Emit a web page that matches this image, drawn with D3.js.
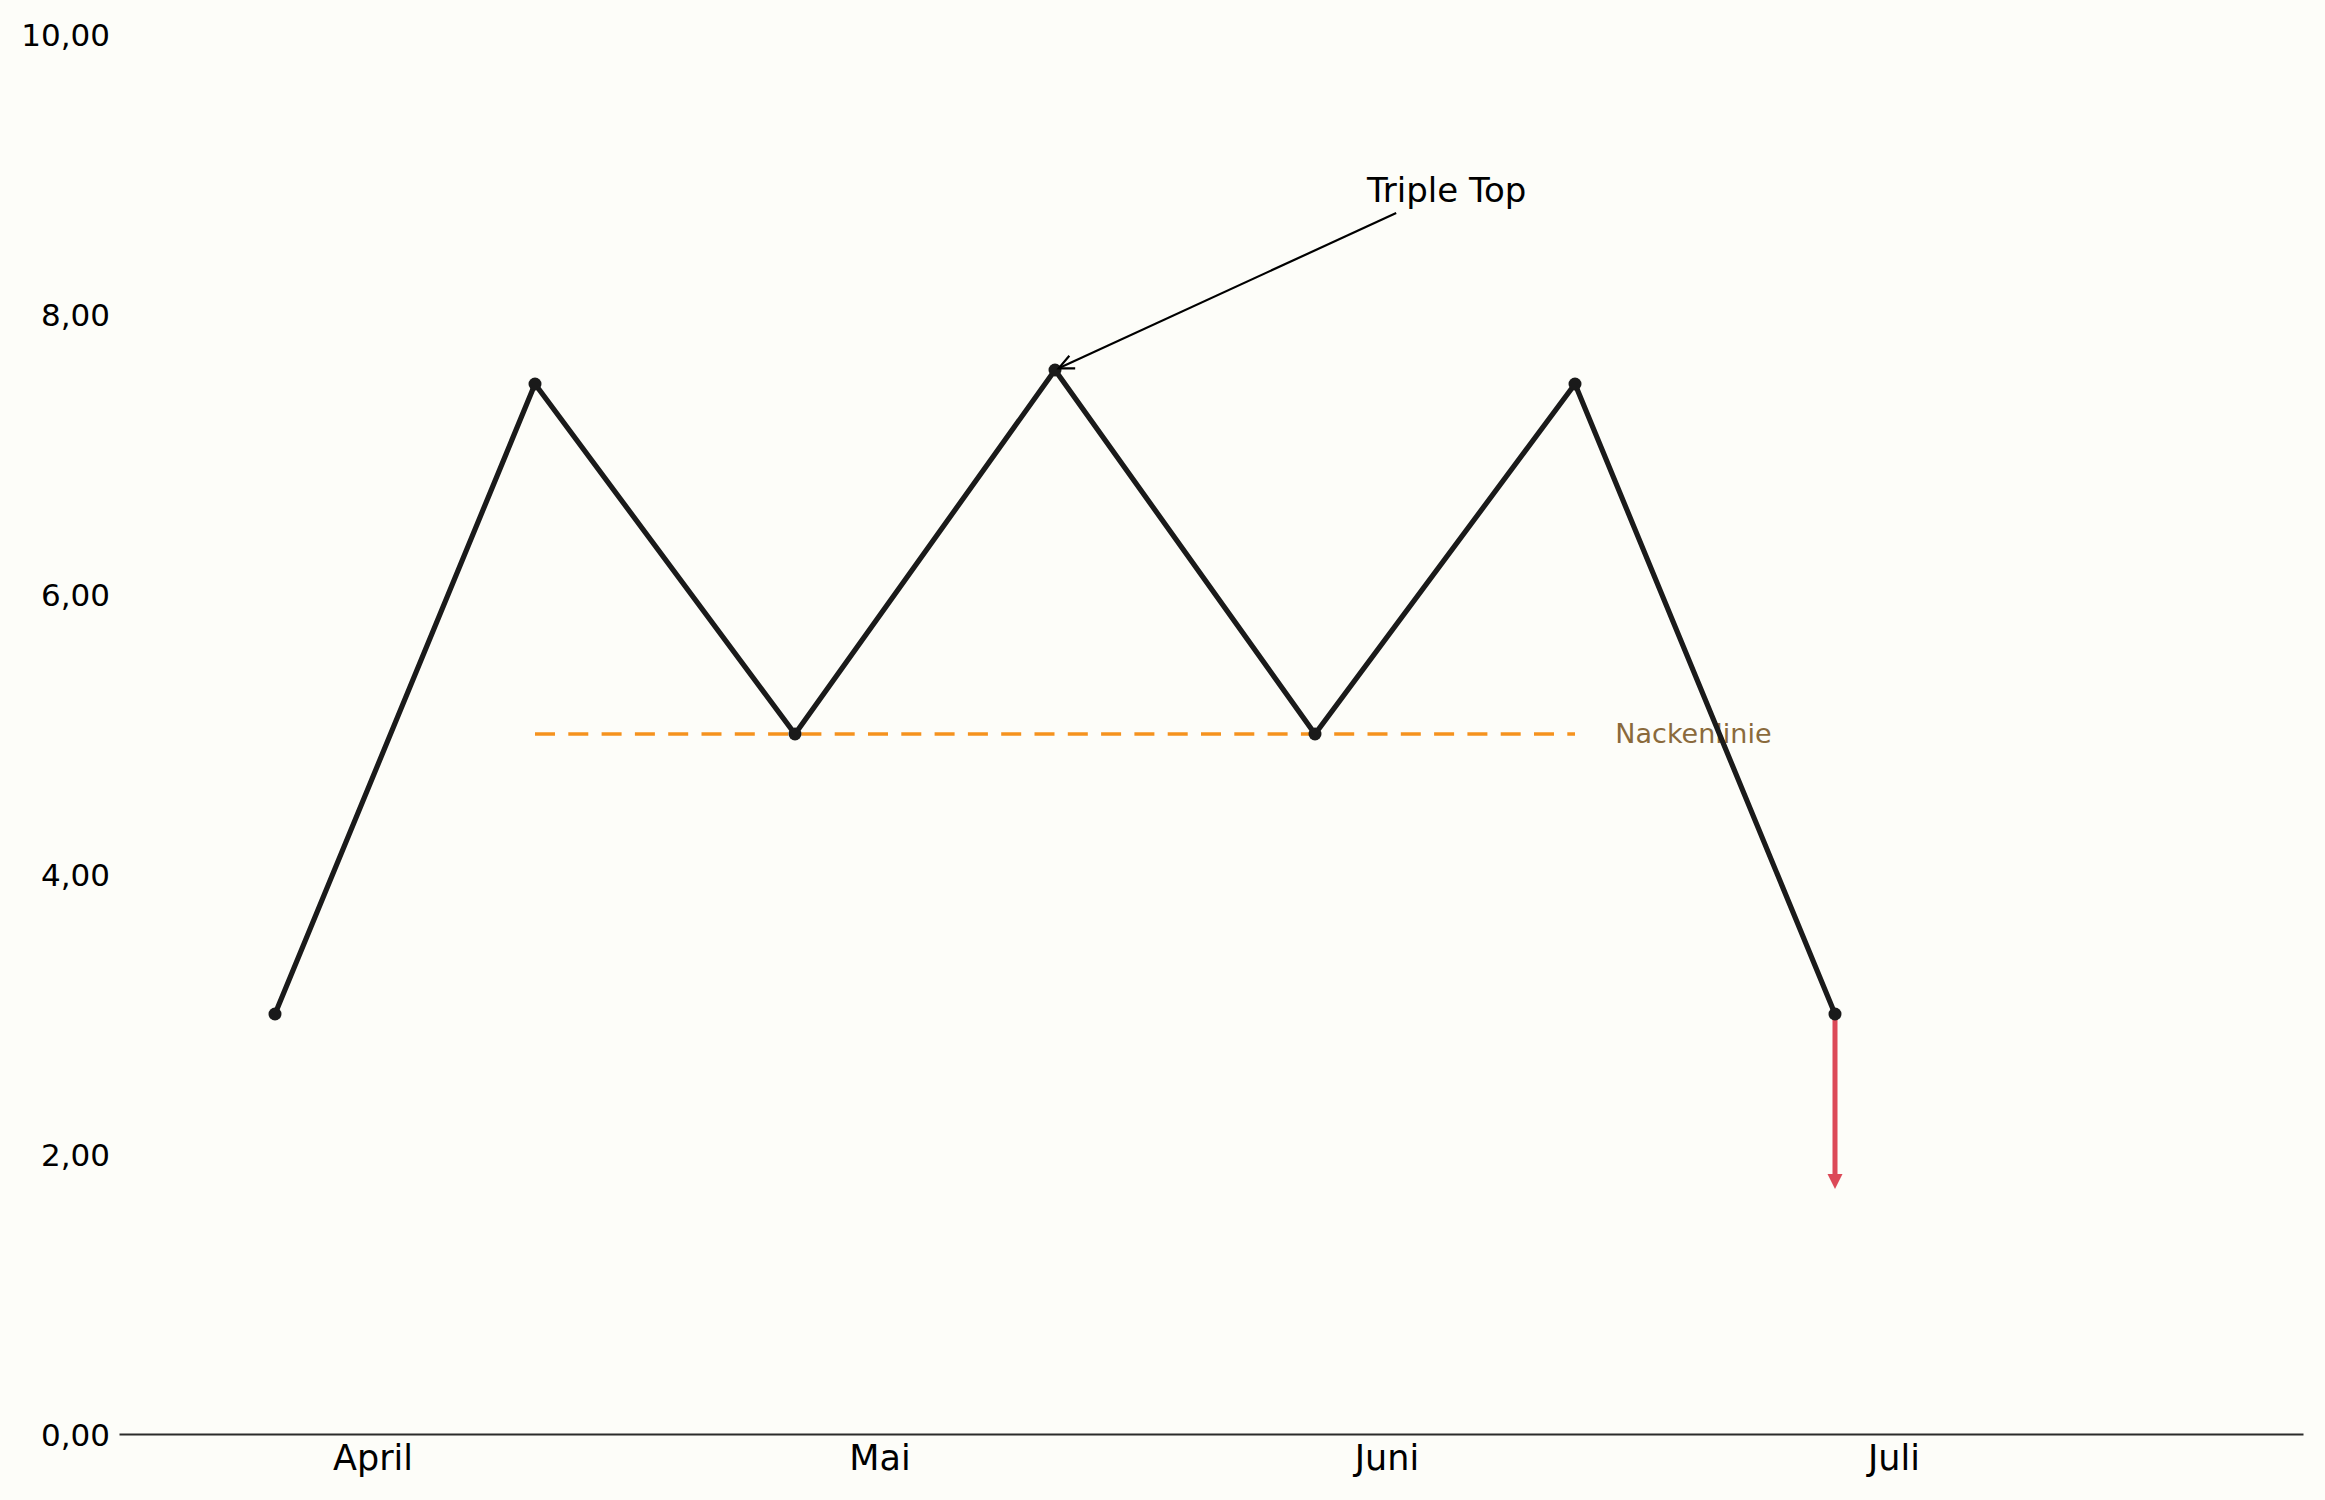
<!DOCTYPE html>
<html lang="de">
<head>
  <meta charset="UTF-8" />
  <title>Triple Top</title>
  <script src="https://d3js.org/d3.v7.min.js"></script>
  <style>
    body {
      margin: 0;
      background: #fdfdf9;
      font-family: "DejaVu Sans", sans-serif;
    }
    svg { display: block; }
  </style>
</head>
<body>
  <svg id="chart"></svg>

  <script>
    // --- data ---
    const pointSlots  = [0, 1, 2, 3, 4, 5, 6];
    const priceValues = [3, 7.5, 5, 7.6, 5, 7.5, 3];

    const monthLabels = ["April", "Mai", "Juni", "Juli"];
    const monthSlots  = [0.375, 2.325, 4.275, 6.225];

    const yTickValues = [0, 2, 4, 6, 8, 10];

    const necklineSlots = [1, 5];
    const necklineValue = 5;
    const necklineLabel = "Nackenlinie";

    const annotationText  = "Triple Top";
    const annotationPeak  = 3;          // index of the pointed-at peak
    const annotationAt    = [4.2, 8.8]; // text position (slot, value)

    const breakSlot  = 6;
    const breakFrom  = 3;
    const breakTo    = 1.75;

    // --- layout ---
    const W = 2325, H = 1500;
    const margin = { top: 34, right: 22, bottom: 66, left: 119 };

    const svg = d3.select("#chart").attr("width", W).attr("height", H);

    svg.append("rect").attr("width", W).attr("height", H).attr("fill", "#fdfdf9");

    const x = d3.scaleLinear().domain([-0.6, 7.8]).range([margin.left, W - margin.right]);
    const y = d3.scaleLinear().domain([0, 10]).range([H - margin.bottom, margin.top]);

    const de = d3.formatLocale({ decimal: ",", thousands: ".", grouping: [3], currency: ["", " €"] });
    const fmt = de.format(".2f");

    // y axis (labels only)
    const yAxis = svg.append("g")
      .attr("transform", `translate(${margin.left},0)`)
      .call(d3.axisLeft(y).tickValues(yTickValues).tickFormat(fmt).tickSize(0).tickPadding(9));
    yAxis.select(".domain").remove();
    yAxis.selectAll("text")
      .attr("font-family", "DejaVu Sans")
      .attr("font-size", 31)
      .attr("dy", "0.36em")
      .attr("fill", "#000");

    // neckline label (drawn under the price line)
    svg.append("text")
      .attr("x", x(necklineSlots[1] + 0.155))
      .attr("y", y(necklineValue))
      .attr("dy", "0.35em")
      .attr("font-size", 27)
      .attr("fill", "#8a6a3c")
      .text(necklineLabel);

    // neckline
    svg.append("line")
      .attr("x1", x(necklineSlots[0]))
      .attr("x2", x(necklineSlots[1]))
      .attr("y1", y(necklineValue))
      .attr("y2", y(necklineValue))
      .attr("stroke", "#f5921e")
      .attr("stroke-width", 3.7)
      .attr("stroke-dasharray", "20,13.3");

    // breakdown arrow
    const headLen = 15, headHalf = 7.5;
    svg.append("line")
      .attr("x1", x(breakSlot))
      .attr("x2", x(breakSlot))
      .attr("y1", y(breakFrom))
      .attr("y2", y(breakTo) - headLen + 1)
      .attr("stroke", "#dc4958")
      .attr("stroke-width", 5);
    svg.append("path")
      .attr("d", `M${x(breakSlot) - headHalf},${y(breakTo) - headLen} L${x(breakSlot) + headHalf},${y(breakTo) - headLen} L${x(breakSlot)},${y(breakTo)} Z`)
      .attr("fill", "#dc4958");

    // x axis
    const xAxis = svg.append("g")
      .attr("transform", `translate(0,${y(0)})`)
      .call(d3.axisBottom(x).tickValues(monthSlots).tickFormat((d, i) => monthLabels[i])
        .tickSize(0).tickSizeOuter(0).tickPadding(11));
    xAxis.select(".domain").attr("stroke", "#2b2b2b").attr("stroke-width", 2);
    xAxis.selectAll("text")
      .attr("font-family", "DejaVu Sans")
      .attr("font-size", 35)
      .attr("fill", "#000");

    // price line
    const pts = pointSlots.map((s, i) => ({ s, v: priceValues[i] }));
    const line = d3.line().x(d => x(d.s)).y(d => y(d.v));

    svg.append("path")
      .datum(pts)
      .attr("d", line)
      .attr("fill", "none")
      .attr("stroke", "#1a1a1a")
      .attr("stroke-width", 5.2)
      .attr("stroke-linejoin", "miter");

    svg.selectAll(".pt")
      .data(pts)
      .enter()
      .append("circle")
        .attr("class", "pt")
        .attr("cx", d => x(d.s))
        .attr("cy", d => y(d.v))
        .attr("r", 6.5)
        .attr("fill", "#1a1a1a");

    // annotation
    const label = svg.append("text")
      .attr("x", x(annotationAt[0]))
      .attr("y", y(annotationAt[1]))
      .attr("font-size", 34)
      .attr("fill", "#000")
      .text(annotationText);

    const bb = label.node().getBBox();
    const cx = bb.x + bb.width / 2, cy = bb.y + bb.height / 2;
    const tx = x(pointSlots[annotationPeak]), ty = y(priceValues[annotationPeak]);
    const dx = tx - cx, dy = ty - cy;
    const pad = 3;
    const tEdge = Math.min(
      (bb.width / 2 + pad) / Math.abs(dx),
      (bb.height / 2 + pad) / Math.abs(dy)
    );
    const sx = cx + dx * tEdge, sy = cy + dy * tEdge;
    const len = Math.hypot(tx - sx, ty - sy);
    const ux = (tx - sx) / len, uy = (ty - sy) / len;
    const ex = tx - ux * 4, ey = ty - uy * 4;   // shrink at the point

    svg.append("line")
      .attr("x1", sx).attr("y1", sy)
      .attr("x2", ex).attr("y2", ey)
      .attr("stroke", "#000")
      .attr("stroke-width", 2.2);

    const aL = 15, aW = 7;
    const bx = ex - ux * aL, by = ey - uy * aL;
    svg.append("path")
      .attr("d", `M${bx - uy * aW},${by + ux * aW} L${ex},${ey} L${bx + uy * aW},${by - ux * aW}`)
      .attr("fill", "none")
      .attr("stroke", "#000")
      .attr("stroke-width", 2.2);
  </script>
</body>
</html>
